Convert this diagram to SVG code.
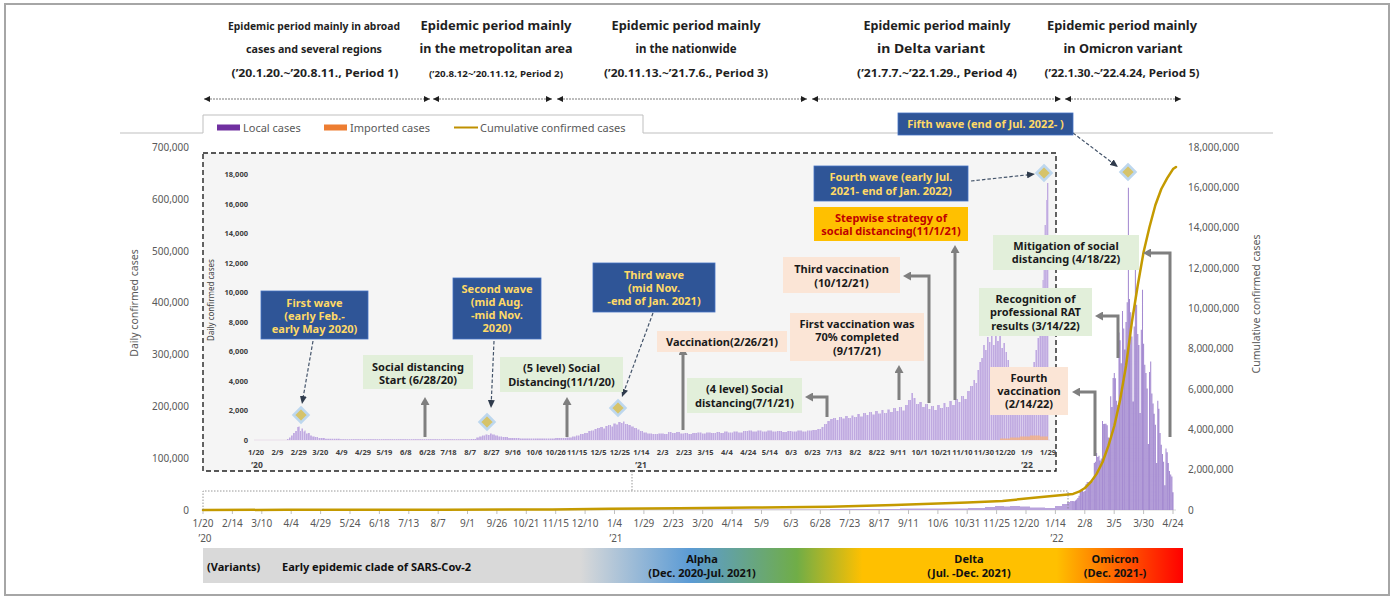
<svg xmlns="http://www.w3.org/2000/svg" width="1396" height="599" viewBox="0 0 1396 599">
<style>
text{font-family:"Noto Sans","Open Sans","DejaVu Sans",sans-serif}
.hd{font-size:12.5px;font-weight:bold;fill:#1f1f1f;text-anchor:middle}
.ax{font-size:10px;fill:#595959}
.axm{font-size:10px;fill:#595959;text-anchor:middle}
.axr{font-size:10px;fill:#595959;text-anchor:end}
.ai{font-size:7.5px;font-weight:bold;fill:#404040;text-anchor:middle}
.air{font-size:7.5px;font-weight:bold;fill:#404040;text-anchor:end}
.lg{font-size:11px;fill:#595959}
.tw{font-size:11px;font-weight:bold;fill:#FFD966;text-anchor:middle}
.tk{font-size:11px;font-weight:bold;fill:#1a1a1a;text-anchor:middle}
.tr{font-size:11px;font-weight:bold;fill:#C00000;text-anchor:middle}
.vt{font-size:11px;font-weight:bold;fill:#111}
.vm{font-size:11px;font-weight:bold;fill:#111;text-anchor:middle}
.bb{fill:#2F5597;stroke:#4472C4;stroke-width:0.8}
.bg{fill:#E2EFDA}
.bp{fill:#FBE5D6}
.by{fill:#FFC000}
.ga{fill:none;stroke:#7F7F7F;stroke-width:3;marker-end:url(#mg)}
.da{fill:none;stroke:#44546A;stroke-width:1.2;stroke-dasharray:3.5 2;marker-end:url(#md)}
.ha{stroke:#595959;stroke-width:0.8;stroke-dasharray:2 1;marker-start:url(#mh);marker-end:url(#mh)}
.dm{fill:#D6C36A;stroke:#BDD7EE;stroke-width:2.5}
.tick{stroke:#BFBFBF;stroke-width:1}
</style>
<defs>
<marker id="mg" viewBox="0 0 8 9" refX="2" refY="4.5" markerWidth="8" markerHeight="9" markerUnits="userSpaceOnUse" orient="auto"><path d="M0,0 L8,4.5 L0,9 z" fill="#7F7F7F"/></marker>
<marker id="md" viewBox="0 0 8 7" refX="1" refY="3.5" markerWidth="8" markerHeight="7" markerUnits="userSpaceOnUse" orient="auto"><path d="M0,0 L8,3.5 L0,7 z" fill="#2F3B4C"/></marker>
<marker id="mh" viewBox="0 0 6 6" refX="6" refY="3" markerWidth="6" markerHeight="6" markerUnits="userSpaceOnUse" orient="auto-start-reverse"><path d="M0,0 L6,3 L0,6 z" fill="#1f1f1f"/></marker>
<pattern id="barsI" width="2.14" height="10" patternUnits="userSpaceOnUse"><rect width="2.14" height="10" fill="#DCD0EF"/><rect width="1.4" height="10" fill="#BFA9E0"/></pattern>
<linearGradient id="var" x1="203" y1="0" x2="1183" y2="0" gradientUnits="userSpaceOnUse">
<stop offset="0" stop-color="#D9D9D9"/><stop offset="0.385" stop-color="#D9D9D9"/><stop offset="0.497" stop-color="#5B9BD5"/><stop offset="0.606" stop-color="#70AD47"/><stop offset="0.673" stop-color="#FFC000"/><stop offset="0.871" stop-color="#FFC000"/><stop offset="1" stop-color="#FF0000"/>
</linearGradient>
</defs>
<rect x="0" y="0" width="1396" height="599" fill="#fff"/>
<rect x="5" y="4" width="1384" height="591" fill="#fff" stroke="#A6A6A6" stroke-width="2"/>

<g id="header">
<text class="hd" x="314" y="29.5" style="font-size:10.5px" textLength="172" lengthAdjust="spacingAndGlyphs">Epidemic period mainly in abroad</text>
<text class="hd" x="314" y="53" style="font-size:11px" textLength="136" lengthAdjust="spacingAndGlyphs">cases and several regions</text>
<text class="hd" x="315" y="77" style="font-size:11px" textLength="167" lengthAdjust="spacingAndGlyphs">(’20.1.20.~’20.8.11., Period 1)</text>
<text class="hd" x="496" y="29.5" textLength="151" lengthAdjust="spacingAndGlyphs">Epidemic period mainly</text>
<text class="hd" x="496" y="53" style="font-size:12px" textLength="153" lengthAdjust="spacingAndGlyphs">in the metropolitan area</text>
<text class="hd" x="496" y="77" style="font-size:9.5px" textLength="134" lengthAdjust="spacingAndGlyphs">(’20.8.12~’20.11.12, Period 2)</text>
<text class="hd" x="686" y="29.5" textLength="149" lengthAdjust="spacingAndGlyphs">Epidemic period mainly</text>
<text class="hd" x="686" y="53" textLength="101" lengthAdjust="spacingAndGlyphs">in the nationwide</text>
<text class="hd" x="686" y="77" style="font-size:11px" textLength="164" lengthAdjust="spacingAndGlyphs">(’20.11.13.~’21.7.6., Period 3)</text>
<text class="hd" x="937" y="29.5" textLength="147" lengthAdjust="spacingAndGlyphs">Epidemic period mainly</text>
<text class="hd" x="931" y="53" textLength="108" lengthAdjust="spacingAndGlyphs">in Delta variant</text>
<text class="hd" x="937" y="77" style="font-size:11px" textLength="160" lengthAdjust="spacingAndGlyphs">(’21.7.7.~’22.1.29., Period 4)</text>
<text class="hd" x="1122" y="29.5" textLength="150" lengthAdjust="spacingAndGlyphs">Epidemic period mainly</text>
<text class="hd" x="1123" y="53" textLength="119" lengthAdjust="spacingAndGlyphs">in Omicron variant</text>
<text class="hd" x="1122" y="77" style="font-size:11px" textLength="155" lengthAdjust="spacingAndGlyphs">(’22.1.30.~’22.4.24, Period 5)</text>
<line class="ha" x1="204" y1="99" x2="430" y2="99"/>
<line class="ha" x1="433" y1="99" x2="552" y2="99"/>
<line class="ha" x1="557" y1="99" x2="807" y2="99"/>
<line class="ha" x1="812" y1="99" x2="1061" y2="99"/>
<line class="ha" x1="1065" y1="99" x2="1181" y2="99"/>
</g>

<g id="legend">
<path d="M120,133 H203 V115 H643 V133 H1273" fill="none" stroke="#BFBFBF" stroke-width="1"/>
<rect x="217" y="124.5" width="23" height="6" fill="#7030A0"/>
<text class="lg" x="243" y="132">Local cases</text>
<rect x="324" y="124.5" width="23" height="6" fill="#ED7D31"/>
<text class="lg" x="350" y="132">Imported cases</text>
<line x1="454" y1="127.5" x2="478" y2="127.5" stroke="#BF9000" stroke-width="2"/>
<text class="lg" x="480" y="132">Cumulative confirmed cases</text>
</g>

<g id="main-axes">
<text class="axr" x="189" y="150.5">700,000</text>
<text class="axr" x="189" y="202.5">600,000</text>
<text class="axr" x="189" y="254.5">500,000</text>
<text class="axr" x="189" y="306">400,000</text>
<text class="axr" x="189" y="357.5">300,000</text>
<text class="axr" x="189" y="409.5">200,000</text>
<text class="axr" x="189" y="461.5">100,000</text>
<text class="axr" x="189" y="513.5">0</text>
<text class="lg" style="font-size:10.5px" text-anchor="middle" transform="translate(138,303) rotate(-90)">Daily confirmed cases</text>
<text class="ax" x="1188" y="150.5">18,000,000</text>
<text class="ax" x="1188" y="190.8">16,000,000</text>
<text class="ax" x="1188" y="231.2">14,000,000</text>
<text class="ax" x="1188" y="271.5">12,000,000</text>
<text class="ax" x="1188" y="311.8">10,000,000</text>
<text class="ax" x="1188" y="352.2">8,000,000</text>
<text class="ax" x="1188" y="392.5">6,000,000</text>
<text class="ax" x="1188" y="432.8">4,000,000</text>
<text class="ax" x="1188" y="473.2">2,000,000</text>
<text class="ax" x="1188" y="513.5">0</text>
<text class="lg" style="font-size:10.5px" text-anchor="middle" transform="translate(1260,304) rotate(-90)">Cumulative confirmed cases</text>
<line x1="203" y1="510" x2="1176" y2="510" stroke="#D9D9D9" stroke-width="1"/>
<path class="tick" d="M203,510v4M232.4,510v4M261.8,510v4M291.2,510v4M320.6,510v4M350,510v4M379.4,510v4M408.8,510v4M438.2,510v4M467.5,510v4M496.9,510v4M526.3,510v4M555.7,510v4M585.1,510v4M614.5,510v4M643.9,510v4M673.3,510v4M702.7,510v4M732.1,510v4M761.5,510v4M790.9,510v4M820.3,510v4M849.7,510v4M879.1,510v4M908.5,510v4M937.9,510v4M967.2,510v4M996.6,510v4M1026,510v4M1055.4,510v4M1084.8,510v4M1114.2,510v4M1143.6,510v4M1173,510v4"/>
<text class="axm" x="203" y="527">1/20</text><text class="axm" x="232.4" y="527">2/14</text><text class="axm" x="261.8" y="527">3/10</text><text class="axm" x="291.2" y="527">4/4</text><text class="axm" x="320.6" y="527">4/29</text><text class="axm" x="350" y="527">5/24</text><text class="axm" x="379.4" y="527">6/18</text><text class="axm" x="408.8" y="527">7/13</text><text class="axm" x="438.2" y="527">8/7</text><text class="axm" x="467.5" y="527">9/1</text><text class="axm" x="496.9" y="527">9/26</text><text class="axm" x="526.3" y="527">10/21</text><text class="axm" x="555.7" y="527">11/15</text><text class="axm" x="585.1" y="527">12/10</text><text class="axm" x="614.5" y="527">1/4</text><text class="axm" x="643.9" y="527">1/29</text><text class="axm" x="673.3" y="527">2/23</text><text class="axm" x="702.7" y="527">3/20</text><text class="axm" x="732.1" y="527">4/14</text><text class="axm" x="761.5" y="527">5/9</text><text class="axm" x="790.9" y="527">6/3</text><text class="axm" x="820.3" y="527">6/28</text><text class="axm" x="849.7" y="527">7/23</text><text class="axm" x="879.1" y="527">8/17</text><text class="axm" x="908.5" y="527">9/11</text><text class="axm" x="937.9" y="527">10/6</text><text class="axm" x="967.2" y="527">10/31</text><text class="axm" x="996.6" y="527">11/25</text><text class="axm" x="1026" y="527">12/20</text><text class="axm" x="1055.4" y="527">1/14</text><text class="axm" x="1084.8" y="527">2/8</text><text class="axm" x="1114.2" y="527">3/5</text><text class="axm" x="1143.6" y="527">3/30</text><text class="axm" x="1173" y="527">4/24</text>
<text class="axm" x="205" y="542">’20</text><text class="axm" x="616" y="542">’21</text><text class="axm" x="1057" y="542">’22</text>
</g>

<g id="inset">
<rect x="203" y="153" width="853" height="318" fill="#F5F5F5" stroke="#222" stroke-width="1.4" stroke-dasharray="5 3"/>
<text class="air" x="248" y="177">18,000</text>
<text class="air" x="248" y="206.6">16,000</text>
<text class="air" x="248" y="236">14,000</text>
<text class="air" x="248" y="265.7">12,000</text>
<text class="air" x="248" y="295.2">10,000</text>
<text class="air" x="248" y="324.8">8,000</text>
<text class="air" x="248" y="354.3">6,000</text>
<text class="air" x="248" y="383.9">4,000</text>
<text class="air" x="248" y="413.4">2,000</text>
<text class="air" x="248" y="443">0</text>
<text style="font-size:8px;fill:#404040" text-anchor="middle" transform="translate(214,300) rotate(-90)">Daily confirmed cases</text>
<line x1="254" y1="440" x2="1050" y2="440" stroke="#E6D8E6" stroke-width="0.8"/>
<path fill="url(#barsI)" d="M256,440 H287 V439 H289 V437.5 H291 V435.5 H293 V433 H295 V431 H297 V427 H298.5 V426.5 H300 V431 H301 V428.5 H303 V431.5 H304.5 V430.5 H306 V433.5 H308 V433 H310 V435.5 H312 V436.5 H315 V437 H318 V438 H325 V438.8 H340 V439.2 H470 V439 H476 V437.5 H479 V436.5 H482 V435.5 H485 V434.5 H488 V435 H490 V433.5 H492 V434.5 H495 V435.5 H498 V436.5 H502 V437 H508 V438 H520 V438.5 H555 V438 H566 V437.5 H572 V436.5 H576 V435.5 H580 V434 H584 V433 H588 V431 H591 V430.5 H594 V429 H597 V428 H600 V427 H603 V428.5 H605 V426 H608 V425 H611 V426.5 H613 V423.5 H616 V424.5 H618 V422 H621 V423 H623 V421.5 H625 V424 H628 V425 H631 V426.5 H634 V428 H637 V429.5 H640 V431 H643 V432.5 H647 V433.5 H652 V434 H658 V433.5 H664 V434 H668 V432 H672 V433 H676 V432 H680 V433.5 H684 V433 H688 V434 H692 V433 H697 V432.5 H702 V433.5 H706 V432.5 H711 V433 H716 V432 H720 V433 H724 V431.5 H728 V432.5 H733 V431.5 H738 V432.5 H743 V431 H748 V430.5 H752 V431.5 H757 V430.5 H762 V431.5 H767 V430.5 H772 V431.5 H777 V431 H782 V432 H787 V431 H792 V431.5 H797 V430.5 H802 V431.5 H807 V430.5 H812 V430 H817 V429 H821 V427 H824 V424 H827 V421 H830 V419 H833 V418 H836 V420 H839 V417 H842 V418.5 H845 V416 H848 V418 H851 V415.5 H854 V417 H857 V414 H860 V416.5 H863 V413 H866 V415 H869 V412 H872 V414.5 H875 V411 H878 V413.5 H881 V410 H884 V413 H887 V409.5 H890 V412 H893 V408 H896 V411 H899 V407 H902 V410.5 H905 V405 H908 V400 H911 V393 H913 V398 H916 V404 H919 V402 H922 V407 H925 V404 H928 V409 H931 V406 H934 V410 H937 V405 H940 V408 H943 V403 H946 V407 H949 V401 H952 V405 H955 V399 H958 V402 H961 V396 H964 V399 H967 V391 H970 V386 H973 V380 H975 V383 H977 V370 H979 V362 H981 V358 H983 V345 H985 V350 H987 V337 H989 V342 H991 V335 H993 V345 H995 V336 H997 V341 H999 V335 H1001 V348 H1003 V343 H1005 V352 H1007 V360 H1009 V368 H1011 V372 H1013 V378 H1015 V381 H1017 V385 H1019 V383 H1021 V388 H1023 V386 H1025 V391 H1027 V385 H1029 V379 H1031 V370 H1033 V362 H1035 V350 H1037 V338 H1039 V325 H1041 V305 H1042.5 V280 H1043.5 V255 H1044.5 V225 H1046 V200 H1047 V183 H1048.5 V440 Z"/>
<path fill="#F4B183" opacity="0.8" d="M1000,440 V438.5 H1010 V437.5 H1020 V436.5 H1030 V435.5 H1040 V436.5 H1048 V440 Z"/>
<text class="ai" x="256" y="455">1/20</text><text class="ai" x="277.4" y="455">2/9</text><text class="ai" x="298.8" y="455">2/29</text><text class="ai" x="320.2" y="455">3/20</text><text class="ai" x="341.6" y="455">4/9</text><text class="ai" x="363" y="455">4/29</text><text class="ai" x="384.4" y="455">5/19</text><text class="ai" x="405.8" y="455">6/8</text><text class="ai" x="427.2" y="455">6/28</text><text class="ai" x="448.6" y="455">7/18</text><text class="ai" x="470.1" y="455">8/7</text><text class="ai" x="491.5" y="455">8/27</text><text class="ai" x="512.9" y="455">9/16</text><text class="ai" x="534.3" y="455">10/6</text><text class="ai" x="555.7" y="455">10/26</text><text class="ai" x="577.1" y="455">11/15</text><text class="ai" x="598.5" y="455">12/5</text><text class="ai" x="619.9" y="455">12/25</text><text class="ai" x="641.3" y="455">1/14</text><text class="ai" x="662.7" y="455">2/3</text><text class="ai" x="684.1" y="455">2/23</text><text class="ai" x="705.5" y="455">3/15</text><text class="ai" x="726.9" y="455">4/4</text><text class="ai" x="748.3" y="455">4/24</text><text class="ai" x="769.7" y="455">5/14</text><text class="ai" x="791.1" y="455">6/3</text><text class="ai" x="812.5" y="455">6/23</text><text class="ai" x="833.9" y="455">7/13</text><text class="ai" x="855.3" y="455">8/2</text><text class="ai" x="876.7" y="455">8/22</text><text class="ai" x="898.2" y="455">9/11</text><text class="ai" x="919.6" y="455">10/1</text><text class="ai" x="941" y="455">10/21</text><text class="ai" x="962.4" y="455">11/10</text><text class="ai" x="983.8" y="455">11/30</text><text class="ai" x="1005.2" y="455">12/20</text><text class="ai" x="1026.6" y="455">1/9</text><text class="ai" x="1048" y="455">1/29</text>
<text class="ai" style="font-size:8.5px" x="257" y="468">’20</text><text class="ai" style="font-size:8.5px" x="641" y="468">’21</text><text class="ai" style="font-size:8.5px" x="1027" y="468">’22</text>
</g>

<g id="main-series">
<path fill="#B9A3DC" d="M203,510 H600 V509.5 H830 V509 H900 V508.5 H968 V508 H985 V507 H995 V506 H1004 V506.5 H1010 V506 H1020 V506.5 H1030 V507.5 H1045 V508 H1055 V506 H1062 V504 H1067 V502 H1070 V501 H1073 V510 Z"/>
<path fill="none" stroke="#A58BD1" stroke-width="1.05" d="M1073.1 510V500.9M1074.3 510V501.2M1075.5 510V500.5M1076.6 510V499.5M1077.8 510V498.1M1079 510V495.8M1080.2 510V491.2M1081.3 510V490M1082.5 510V489.9M1083.7 510V491.7M1084.9 510V491M1086 510V484.3M1087.2 510V481.9M1088.4 510V482M1089.6 510V481.5M1090.7 510V480.8M1091.9 510V481.7M1093.1 510V480.4M1094.3 510V463.1M1095.4 510V461.7M1096.6 510V453.1M1097.8 510V457M1099 510V455.7M1100.1 510V460.6M1101.3 510V458.4M1102.5 510V421.1M1103.7 510V424M1104.8 510V423.8M1106 510V423.8M1107.2 510V425.2M1108.4 510V437.6M1109.6 510V438M1110.7 510V396.3M1111.9 510V406.9M1113.1 510V378.1M1114.3 510V373M1115.4 510V378.2M1116.6 510V400.7M1117.8 510V404.9M1119 510V332.4M1120.1 510V340.2M1121.3 510V363.3M1122.5 510V311.1M1123.7 510V328.4M1124.8 510V349.4M1126 510V322.1M1127.2 510V302.2M1128.4 510V187.8M1129.5 510V298.9M1130.7 510V312.2M1131.9 510V336.4M1133.1 510V401.5M1134.2 510V326.5M1135.4 510V255.5M1136.6 510V304.8M1137.8 510V333.9M1138.9 510V345.1M1140.1 510V412.9M1141.3 510V329.8M1142.5 510V289.8M1143.6 510V343.7M1144.8 510V364.7M1146 510V373M1147.2 510V388.5M1148.4 510V444M1149.5 510V372M1150.7 510V361.6M1151.9 510V393.4M1153.1 510V403.5M1154.2 510V413.8M1155.4 510V424.7M1156.6 510V462.9M1157.8 510V400.7M1158.9 510V408.7M1160.1 510V433M1161.3 510V444.8M1162.5 510V454M1163.6 510V461.8M1164.8 510V485.3M1166 510V448.5M1167.2 510V452.3M1168.3 510V462.9M1169.5 510V470.9M1170.7 510V474.4M1171.9 510V476.4M1173 510V492.2"/>
<polyline fill="none" stroke="#C49A00" stroke-width="2.5" stroke-linejoin="round" stroke-linecap="round" points="203,510 286.5,509.8 442.9,509.7 552.2,509.4 609.8,508.8 679.2,508.2 753.3,507.5 829.7,506.7 894.4,504.9 967.3,502.6 1002.5,501 1039,497.2 1073.1,493.9 1079,491.7 1084.9,488 1090.7,482.2 1096.6,473.9 1102.5,462.2 1108.4,445.9 1114.3,426 1120.1,400 1126,366 1131.9,322 1137.8,285 1143.6,252 1149.5,227 1155.4,205 1161.3,189 1167.2,178.2 1173,169.1 1176,167"/>
<path d="M203,510 V491 H1068 V510 M632,471 V491" fill="none" stroke="#7F7F7F" stroke-width="0.8" stroke-dasharray="1.5 1.5"/>
</g>

<g id="variants">
<rect x="203" y="548" width="980" height="35" fill="url(#var)"/>
<text class="vt" x="207" y="571">(Variants)</text>
<text class="vt" x="282" y="571">Early epidemic clade of SARS-Cov-2</text>
<text class="vm" x="702" y="563">Alpha</text>
<text class="vm" x="702" y="577">(Dec. 2020-Jul. 2021)</text>
<text class="vm" x="969" y="563">Delta</text>
<text class="vm" x="969" y="577">(Jul. -Dec. 2021)</text>
<text class="vm" x="1115" y="563">Omicron</text>
<text class="vm" x="1115" y="577">(Dec. 2021-)</text>
</g>

<g id="connectors">
<path class="ga" d="M425,437 V403"/>
<path class="ga" d="M567,437 V403"/>
<path class="ga" d="M683,430 V353"/>
<path class="ga" d="M899,400 V371"/>
<path class="ga" d="M955,400 V251"/>
<path class="ga" d="M827,417 V397 H811"/>
<path class="ga" d="M929,403 V276 H909"/>
<path class="ga" d="M1095,456 V392 H1078"/>
<path class="ga" d="M1118,358 V316 H1101"/>
<path class="ga" d="M1170,437 V253 H1149"/>
<path class="da" d="M313,341 L303.2,397.1"/>
<path class="da" d="M494,341 L491.3,401"/>
<path class="da" d="M653,313 L624.4,390.4"/>
<path class="da" d="M971,181 L1028,174.8"/>
<path class="da" d="M1073,133 L1112.4,162.8"/>
</g>

<g id="peak-first"><polygon class="dm" points="301,407.5 308.5,415 301,422.5 293.5,415"/></g>
<g id="peak-second"><polygon class="dm" points="487,414.5 494.5,422 487,429.5 479.5,422"/></g>
<g id="peak-third"><polygon class="dm" points="618,400.5 625.5,408 618,415.5 610.5,408"/></g>
<g id="peak-fourth"><polygon class="dm" points="1044,165.5 1051.5,173 1044,180.5 1036.5,173"/></g>
<g id="peak-fifth"><polygon class="dm" points="1128,164.5 1135.5,172 1128,179.5 1120.5,172"/></g>

<g id="first-wave"><rect class="bb" x="261" y="291" width="107" height="48"/>
<text class="tw" x="314.5" y="306.5">First wave</text><text class="tw" x="314.5" y="319.5">(early Feb.-</text><text class="tw" x="314.5" y="332.5">early May 2020)</text></g>
<g id="second-wave"><rect class="bb" x="453" y="278" width="88" height="61"/>
<text class="tw" x="497" y="293">Second wave</text><text class="tw" x="497" y="306">(mid Aug.</text><text class="tw" x="497" y="319">-mid Nov.</text><text class="tw" x="497" y="332">2020)</text></g>
<g id="third-wave"><rect class="bb" x="593" y="263" width="122" height="49"/>
<text class="tw" x="654" y="279">Third wave</text><text class="tw" x="654" y="292">(mid Nov.</text><text class="tw" x="654" y="305">-end of Jan. 2021)</text></g>
<g id="fourth-wave"><rect class="bb" x="814" y="166" width="154" height="35"/>
<text class="tw" x="891" y="181">Fourth wave (early Jul.</text><text class="tw" x="891" y="195">2021- end of Jan. 2022)</text></g>
<g id="fifth-wave"><rect class="bb" x="898" y="113" width="175" height="22"/>
<text class="tw" x="985.5" y="128">Fifth wave (end of Jul. 2022- )</text></g>
<g id="stepwise"><rect class="by" x="814" y="207" width="154" height="34"/>
<text class="tr" x="891" y="222">Stepwise strategy of</text><text class="tr" x="891" y="235">social distancing(11/1/21)</text></g>
<g id="social-distancing-start"><rect class="bg" x="363" y="355" width="110" height="34"/>
<text class="tk" x="418" y="371">Social distancing</text><text class="tk" x="418" y="384">Start (6/28/20)</text></g>
<g id="five-level"><rect class="bg" x="500" y="357" width="123" height="35"/>
<text class="tk" x="561.5" y="372">(5 level) Social</text><text class="tk" x="561.5" y="386">Distancing(11/1/20)</text></g>
<g id="vaccination"><rect class="bp" x="657" y="331" width="130" height="21"/>
<text class="tk" x="722" y="346">Vaccination(2/26/21)</text></g>
<g id="four-level"><rect class="bg" x="687" y="378" width="115" height="35"/>
<text class="tk" x="744.5" y="393">(4 level) Social</text><text class="tk" x="744.5" y="407">distancing(7/1/21)</text></g>
<g id="third-vaccination"><rect class="bp" x="783" y="257" width="117" height="36"/>
<text class="tk" x="841.5" y="273">Third vaccination</text><text class="tk" x="841.5" y="287">(10/12/21)</text></g>
<g id="first-vaccination-70"><rect class="bp" x="790" y="313" width="134" height="48"/>
<text class="tk" x="857" y="328">First vaccination was</text><text class="tk" x="857" y="341">70% completed</text><text class="tk" x="857" y="355">(9/17/21)</text></g>
<g id="fourth-vaccination"><rect class="bp" x="990" y="367" width="78" height="48"/>
<text class="tk" x="1029" y="382">Fourth</text><text class="tk" x="1029" y="395">vaccination</text><text class="tk" x="1029" y="408">(2/14/22)</text></g>
<g id="recognition-rat"><rect class="bg" x="979" y="288" width="113" height="48"/>
<text class="tk" x="1035.5" y="303">Recognition of</text><text class="tk" x="1035.5" y="316">professional RAT</text><text class="tk" x="1035.5" y="330">results (3/14/22)</text></g>
<g id="mitigation"><rect class="bg" x="993" y="235" width="146" height="35"/>
<text class="tk" x="1066" y="250">Mitigation of social</text><text class="tk" x="1066" y="263">distancing (4/18/22)</text></g>
</svg>
